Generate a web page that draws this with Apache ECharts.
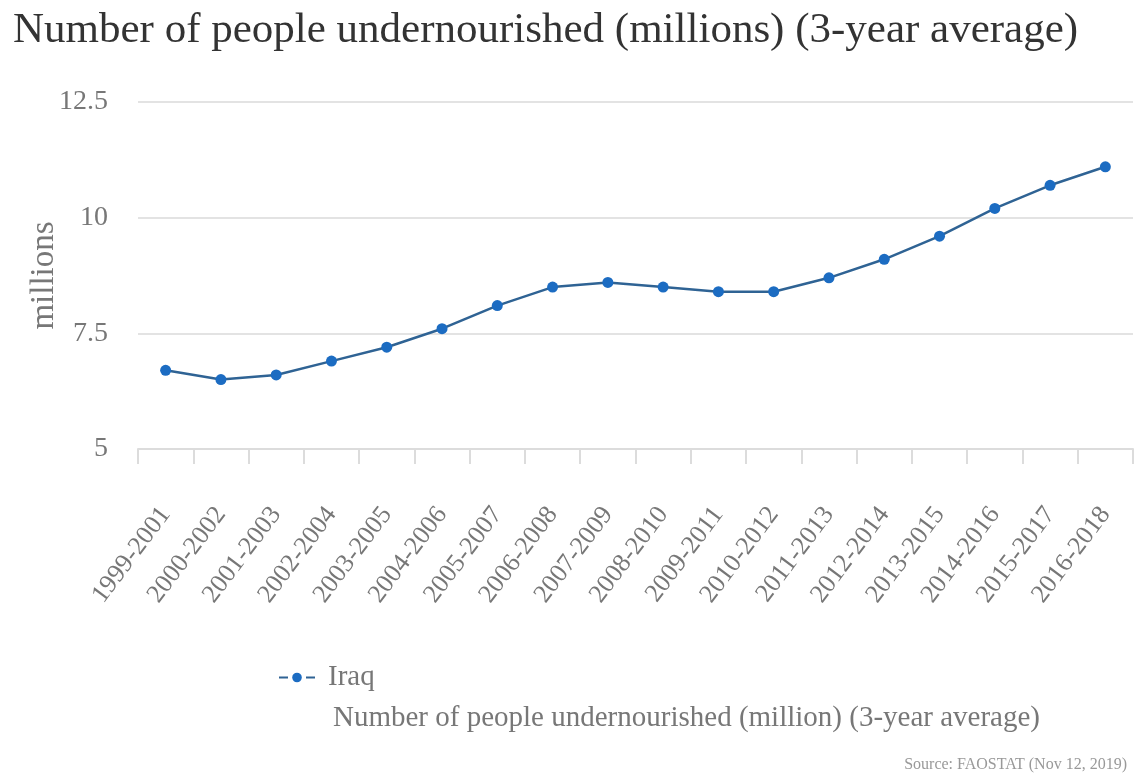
<!DOCTYPE html>
<html>
<head>
<meta charset="utf-8">
<script src="https://cdn.jsdelivr.net/npm/echarts@6/dist/echarts.min.js"></script>
<style>
html,body{margin:0;padding:0;background:#fff;}
#chart{width:1136px;height:775px;}
</style>
</head>
<body>
<div id="chart"></div>
<script>
const categories = ["1999-2001","2000-2002","2001-2003","2002-2004","2003-2005","2004-2006","2005-2007","2006-2008","2007-2009","2008-2010","2009-2011","2010-2012","2011-2013","2012-2014","2013-2015","2014-2016","2015-2017","2016-2018"];
const iraqValues = [6.7, 6.5, 6.6, 6.9, 7.2, 7.6, 8.1, 8.5, 8.6, 8.5, 8.4, 8.4, 8.7, 9.1, 9.6, 10.2, 10.7, 11.1];
const yTicks = [5, 7.5, 10, 12.5];
const seriesName = "Iraq";
const titleText = "Number of people undernourished (millions) (3-year average)";
const legendDesc = "Number of people undernourished (million) (3-year average)";
const sourceText = "Source: FAOSTAT (Nov 12, 2019)";
const yAxisName = "millions";

const FONT = '"Liberation Serif", "DejaVu Serif", serif';
const chart = echarts.init(document.getElementById('chart'), null, {renderer:'canvas'});
chart.setOption({
  backgroundColor: '#fff',
  animation: false,
  title: [
    {text: titleText, left: 8, top: 4,
     textStyle: {fontFamily: FONT, fontSize: 43, fontWeight: 'normal', color: '#333'}},
    {text: legendDesc, left: 328, top: 699,
     textStyle: {fontFamily: FONT, fontSize: 29, fontWeight: 'normal', color: '#777'}},
    {text: sourceText, right: 4, top: 752,
     textStyle: {fontFamily: FONT, fontSize: 16, fontWeight: 'normal', color: '#999'}}
  ],
  legend: {
    left: 273, top: 658,
    itemWidth: 36, itemHeight: 12, itemGap: 10,
    lineStyle: {type: [9, 18]},
    textStyle: {fontFamily: FONT, fontSize: 29, color: '#777', padding: [0, 0, 0, 8]},
    data: [seriesName]
  },
  grid: {left: 138, right: 3, top: 102, bottom: 326, containLabel: false},
  xAxis: {
    type: 'category',
    data: categories,
    boundaryGap: true,
    axisLine: {lineStyle: {color: '#dcdcdc', width: 2}},
    axisTick: {show: true, length: 15, lineStyle: {color: '#dcdcdc', width: 2}},
    axisLabel: {rotate: 53, margin: 61, fontFamily: FONT, fontSize: 26, color: '#777', interval: 0}
  },
  yAxis: {
    type: 'value',
    min: yTicks[0], max: yTicks[yTicks.length-1], interval: 2.5,
    name: yAxisName, nameLocation: 'middle', nameGap: 77, nameRotate: 90,
    nameMoveOverlap: false,
    nameTextStyle: {fontFamily: FONT, fontSize: 33, color: '#777'},
    axisLine: {show: false}, axisTick: {show: false},
    splitLine: {lineStyle: {color: '#e3e3e3', width: 2}},
    axisLabel: {margin: 30, fontFamily: FONT, fontSize: 28, color: '#777'}
  },
  series: [{
    name: seriesName,
    type: 'line',
    data: iraqValues,
    smooth: false,
    symbol: 'circle',
    symbolSize: 11,
    lineStyle: {color: '#2f6394', width: 2.5},
    itemStyle: {color: '#1c6cc2'}
  }]
});
</script>
</body>
</html>
